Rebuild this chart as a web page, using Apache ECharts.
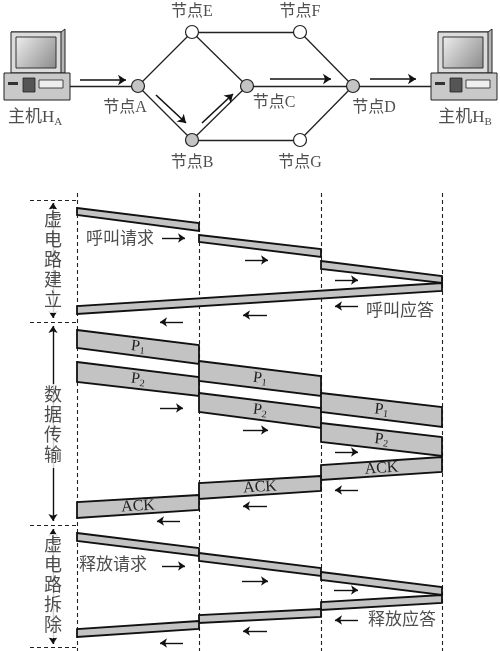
<!DOCTYPE html>
<html><head><meta charset="utf-8">
<script src="https://cdn.jsdelivr.net/npm/echarts@6/dist/echarts.min.js"></script>
<style>html,body{margin:0;padding:0;background:#fff}#c{width:500px;height:651px}</style>
</head><body><div id="c"></div>
<script>
var FONT = '"Liberation Serif","Noto Sans CJK SC",serif';
// network nodes: name, x, y, filled
var nodes = [['A',138,86,1],['E',192,32,0],['F',300,32,0],['C',247,86,1],['D',353,86,1],['B',192,140,1],['G',300,140,0]];
var links = [[[70,86],[138,86]],[[138,86],[192,32]],[[138,86],[192,140]],[[192,32],[300,32]],[[192,32],[247,86]],
  [[192,140],[247,86]],[[192,140],[300,140]],[[300,32],[353,86]],[[247,86],[353,86]],[[300,140],[353,86]],[[353,86],[432,86]]];
var netArrows = [[[80,80],[126,80]],[[156,95],[186,123]],[[202,123],[233,94]],[[270,79],[331,79]],[[370,79],[416,79]]];
var nodeLabels = [['节点E',192,12],['节点F',300,12],['节点A',125,108],['节点C',274,103],['节点D',374,108],['节点B',192,163],['节点G',300,163]];
var hosts = [[3,'A'],[430,'B']];
// time lines
var stations = [77,199,321,442];
var sepY = [200,322,525,647];
// bands: x0, top0, bottom0, x1, top1, bottom1, label
var bands = [
  [77,208,215,199,223,231,''],[199,235,242,321,249,257,''],[321,261,269,442,276,283,''],
  [442,283,291,77,306,314,''],
  [77,330,348,199,345,364,'P1'],[77,362,382,199,377,396,'P2'],
  [199,361,381,321,376,396,'P1'],[199,393,412,321,408,428,'P2'],
  [321,393,412,442,407,427,'P1'],[321,423,442,442,437,456,'P2'],
  [442,457,472,321,465,480,'ACK'],[321,476,491,199,483,499,'ACK'],[199,495,510,77,502,518,'ACK'],
  [77,533,541,199,548,556,''],[199,553,561,321,568,576,''],[321,572,580,442,587,595,''],
  [442,595,603,321,602,610,''],[321,609,617,199,615,623,''],[199,621,629,77,629,637,'']
];
var smallArrows = [[162,238,185],[245,260,268],[335,280,358],[358,306,335],[267,315,243],[183,322,160],
  [160,408,183],[243,430,268],[335,452,358],[358,490,335],[267,506,243],[180,521,157],
  [162,566,185],[242,581,268],[334,590,358],[358,620,335],[267,631,243],[183,643,160]];
var phaseText = [['虚\n电\n路\n建\n立',261],['数\n据\n传\n输',426],['虚\n电\n路\n拆\n除',586]];
var notes = [['呼叫请求',120,240],['呼叫应答',400,312],['释放请求',113,566],['释放应答',402,621]];

var chart = echarts.init(document.getElementById('c'));
function seg(a){return {coords:a};}
var dashLines = [];
stations.forEach(function(x){dashLines.push(seg([[x,193],[x,651]]));});
sepY.forEach(function(y){dashLines.push(seg([[30,y],[77,y]]));});
var phaseArrows = [[203,318],[326,521],[529,644]];

chart.setOption({
  animation:false,
  grid:{left:0,right:0,top:0,bottom:0},
  xAxis:{type:'value',min:0,max:500,show:false},
  yAxis:{type:'value',min:0,max:651,inverse:true,show:false},
  series:[
    {type:'lines',coordinateSystem:'cartesian2d',data:links.map(seg),lineStyle:{color:'#222',width:1.3,opacity:1},z:1},
    {type:'lines',coordinateSystem:'cartesian2d',data:dashLines,lineStyle:{color:'#222',width:1.1,type:[4,3],opacity:1},z:1},
    {type:'lines',coordinateSystem:'cartesian2d',data:netArrows.map(seg),symbol:['none','arrow'],symbolSize:8,
      lineStyle:{color:'#111',width:1.6,opacity:1},z:3},
    {type:'lines',coordinateSystem:'cartesian2d',data:smallArrows.map(function(a){return seg([[a[0],a[1]],[a[2],a[1]]]);}),
      symbol:['none','arrow'],symbolSize:7,lineStyle:{color:'#111',width:1.4,opacity:1},z:3},
    {type:'lines',coordinateSystem:'cartesian2d',data:phaseArrows.map(function(p){return seg([[53,p[0]],[53,p[1]]]);}),
      symbol:['arrow','arrow'],symbolSize:7,lineStyle:{color:'#111',width:1.4,opacity:1},z:2},
    {type:'scatter',data:nodes.map(function(n){return {value:[n[1],n[2]],itemStyle:{color:n[3]?'#c4c4c4':'#fff'}};}),
      symbolSize:13,itemStyle:{borderColor:'#222',borderWidth:1.2,opacity:1},z:4},
    {type:'custom',data:bands,z:2,renderItem:function(p,api){
      var b=bands[p.dataIndex];
      var pts=[api.coord([b[0],b[1]]),api.coord([b[3],b[4]]),api.coord([b[3],b[5]]),api.coord([b[0],b[2]])];
      var ch=[{type:'polygon',shape:{points:pts},style:{fill:'#c3c3c3',stroke:'#111',lineWidth:1.8}}];
      if(b[6]){
        var c0=api.coord([(b[0]+b[3])/2,(b[1]+b[2]+b[4]+b[5])/4]);
        var ang=Math.atan2(pts[1][1]-pts[0][1],pts[1][0]-pts[0][0]);
        if(b[3]<b[0]) ang=Math.atan2(pts[0][1]-pts[1][1],pts[0][0]-pts[1][0]);
        var t=b[6][0]==='P'?'{m|P}{s|'+b[6][1]+'}':'{m|ACK}';
        ch.push({type:'text',x:c0[0],y:c0[1],rotation:-ang,style:{text:t,align:'center',verticalAlign:'middle',
          rich:{m:{fontFamily:FONT,fontSize:16,fill:'#222'},s:{fontFamily:FONT,fontSize:10,fill:'#222',padding:[8,0,0,0]}}}});
      }
      return {type:'group',children:ch};
    }},
    {type:'custom',data:hosts,z:3,renderItem:function(p,api){
      var h=hosts[p.dataIndex],o=api.coord([h[0],32]),x=o[0],y=o[1];
      return {type:'group',children:[
        {type:'polygon',shape:{points:[[x+8,y],[x+58,y],[x+62,y-3],[x+62,y+41],[x+58,y+41]]},style:{fill:'#b5b5b5',stroke:'#222',lineWidth:1}},
        {type:'rect',shape:{x:x+8,y:y,width:50,height:41},style:{fill:'#dcdcdc',stroke:'#222',lineWidth:1}},
        {type:'rect',shape:{x:x+13,y:y+5,width:40,height:31},style:{fill:new echarts.graphic.LinearGradient(0,0,1,1,[{offset:0,color:'#eee'},{offset:1,color:'#8a8a8a'}]),stroke:'#333',lineWidth:1}},
        {type:'rect',shape:{x:x+1,y:y+41,width:66,height:27},style:{fill:'#c9c9c9',stroke:'#222',lineWidth:1}},
        {type:'rect',shape:{x:x+20,y:y+46,width:12,height:14},style:{fill:'#555',stroke:'#222',lineWidth:0.8}},
        {type:'rect',shape:{x:x+36,y:y+48,width:24,height:8},style:{fill:'#eee',stroke:'#222',lineWidth:0.8}},
        {type:'rect',shape:{x:x+5,y:y+50,width:10,height:3},style:{fill:'#333'}}
      ]};
    }},
    {type:'scatter',symbolSize:0,z:5,data:nodeLabels.map(function(l){return {value:[l[1],l[2]],label:{formatter:l[0]}};}),
      label:{show:true,position:'inside',fontFamily:FONT,fontSize:16,color:'#222'}},
    {type:'scatter',symbolSize:0,z:5,data:[[35,118],[465,118]],
      label:{show:true,position:'inside',formatter:function(p){return '{m|主机H}{s|'+(p.dataIndex?'B':'A')+'}';},
        rich:{m:{fontFamily:FONT,fontSize:17,color:'#222'},s:{fontFamily:FONT,fontSize:11,color:'#222',padding:[8,0,0,0]}}}},
    {type:'scatter',symbolSize:0,z:5,data:notes.map(function(n){return {value:[n[1],n[2]],label:{formatter:n[0]}};}),
      label:{show:true,position:'inside',fontFamily:FONT,fontSize:17,color:'#222',backgroundColor:'#fff'}},
    {type:'scatter',symbolSize:0,z:5,data:phaseText.map(function(n){return {value:[53,n[1]],label:{formatter:n[0]}};}),
      label:{show:true,position:'inside',fontFamily:FONT,fontSize:18,lineHeight:20,color:'#222',backgroundColor:'#fff',padding:[2,0]}}
  ]
});
</script></body></html>
